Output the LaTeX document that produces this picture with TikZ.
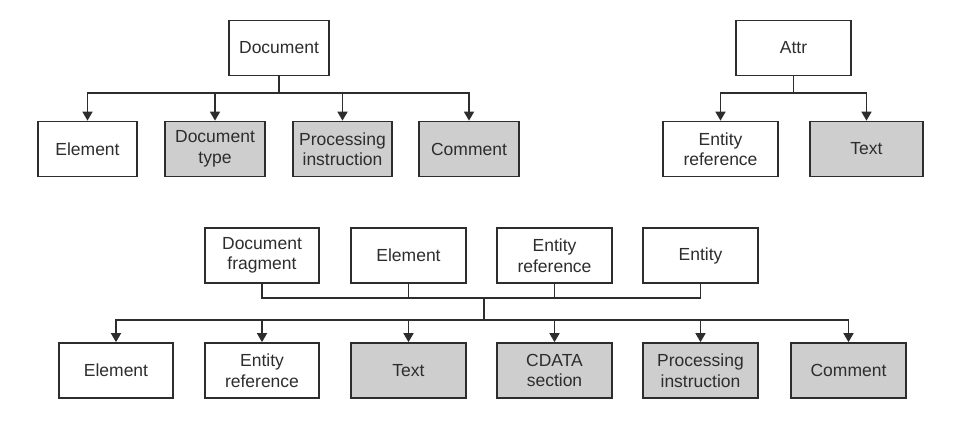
\documentclass[tikz,border=0pt]{standalone}
\usepackage{fontspec}
\setmainfont{Liberation Sans}
\usetikzlibrary{arrows.meta}
\definecolor{boxgray}{RGB}{206,206,206}
\definecolor{ink}{RGB}{45,45,45}
\tikzset{
  box/.style={draw=ink, line width=1.7pt, text=ink, inner sep=0pt, align=center,
    font=\fontsize{17.5}{20.5}\selectfont, minimum height=55pt},
  wbox/.style={box, fill=white},
  gbox/.style={box, fill=boxgray},
  conn/.style={draw=ink, line width=1.6pt},
  arr/.style={conn, -{Triangle[width=10pt,length=9pt]}}
}
\begin{document}
\begin{tikzpicture}[x=1pt,y=-1pt]
\useasboundingbox (0,0) rectangle (971,428);
% top left tree
\node[wbox, minimum width=100pt] (doc) at (279,48) {Document};
\node[wbox, minimum width=99pt] (t1) at (87.5,149) {Element};
\node[gbox, minimum width=100pt] (t2) at (215,149) {Document\\type};
\node[gbox, minimum width=99pt] (t3) at (342.5,149) {Processing\\instruction};
\node[gbox, minimum width=100pt] (t4) at (469,149) {Comment};
\coordinate (jd) at (279,93);
\draw[conn] (doc.south) -- (jd);
\draw[arr] (jd) -| (t1.north);
\draw[arr] (jd) -| (t2.north);
\draw[arr] (jd) -| (t3.north);
\draw[arr] (jd) -| (t4.north);
% top right tree
\node[wbox, minimum width=115pt] (attr) at (793.5,48) {Attr};
\node[wbox, minimum width=115pt] (a1) at (720.5,149) {Entity\\reference};
\node[gbox, minimum width=113pt] (a2) at (866.5,149) {Text};
\coordinate (ja) at (793.5,93);
\draw[conn] (attr.south) -- (ja);
\draw[arr] (ja) -| (a1.north);
\draw[arr] (ja) -| (a2.north);
% bottom tree
\node[wbox, minimum width=114pt] (p1) at (262,255.5) {Document\\fragment};
\node[wbox, minimum width=115pt] (p2) at (408.5,255.5) {Element};
\node[wbox, minimum width=115pt] (p3) at (554.5,255.5) {Entity\\reference};
\node[wbox, minimum width=115pt] (p4) at (700.5,255.5) {Entity};
\node[wbox, minimum width=114pt] (c1) at (116,370.5) {Element};
\node[wbox, minimum width=114pt] (c2) at (262,370.5) {Entity\\reference};
\node[gbox, minimum width=115pt] (c3) at (408.5,370.5) {Text};
\node[gbox, minimum width=115pt] (c4) at (554.5,370.5) {CDATA\\section};
\node[gbox, minimum width=115pt] (c5) at (700.5,370.5) {Processing\\instruction};
\node[gbox, minimum width=115pt] (c6) at (848.5,370.5) {Comment};
\coordinate (jb) at (484,298);
\coordinate (jc) at (484,320);
\draw[conn] (p1.south) |- (jb);
\draw[conn] (p2.south) |- (jb);
\draw[conn] (p3.south) |- (jb);
\draw[conn] (p4.south) |- (jb);
\draw[conn] (jb) -- (jc);
\draw[arr] (jc) -| (c1.north);
\draw[arr] (jc) -| (c2.north);
\draw[arr] (jc) -| (c3.north);
\draw[arr] (jc) -| (c4.north);
\draw[arr] (jc) -| (c5.north);
\draw[arr] (jc) -| (c6.north);
\end{tikzpicture}
\end{document}
